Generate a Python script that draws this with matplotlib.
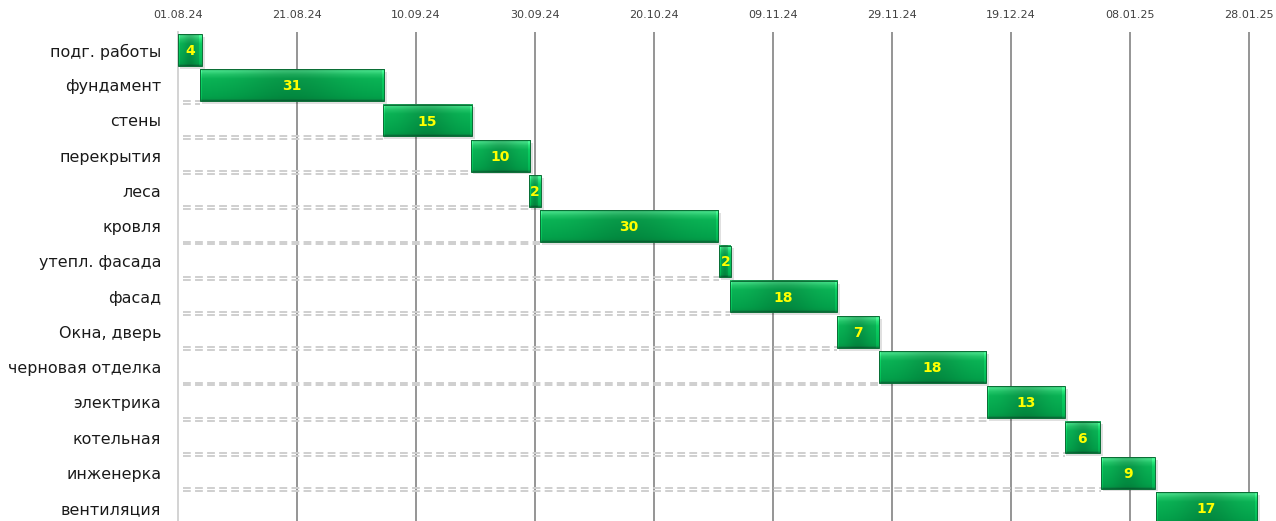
import matplotlib
matplotlib.use('Agg')
import matplotlib.pyplot as plt
import numpy as np
from matplotlib.colors import to_rgb
from matplotlib.patches import Rectangle

## data: tasks, start (days from 01.08.24) and duration in days
tasks = ['подг. работы', 'фундамент', 'стены', 'перекрытия', 'леса', 'кровля',
         'утепл. фасада', 'фасад', 'Окна, дверь', 'черновая отделка',
         'электрика', 'котельная', 'инженерка', 'вентиляция']
start_days = [0, 3.7, 34.4, 49.2, 59.0, 60.8, 91.0, 92.7, 110.8, 117.8,
              136.0, 149.0, 155.2, 164.3]
durations = [4, 31, 15, 10, 2, 30, 2, 18, 7, 18, 13, 6, 9, 17]
tick_labels = ['01.08.24', '21.08.24', '10.09.24', '30.09.24', '20.10.24',
               '09.11.24', '29.11.24', '19.12.24', '08.01.25', '28.01.25']
tick_step = 20

fig = plt.figure(figsize=(12.76, 5.21), dpi=100)
ax = fig.add_axes([0.1395, -0.0088, 0.8487, 0.9466])

## vertical colour profile of a bar (top -> bottom), 32 rows
prof_pts = [(0.0, '#1f9a55'), (0.04, '#45e28a'), (0.16, '#22c86a'),
            (0.30, '#0ab556'), (0.85, '#03a44c'), (0.95, '#049c48'),
            (1.0, '#08703a')]
rows = np.linspace(0, 1, 32)
prof = np.zeros((32, 3))
px = [p for p, c in prof_pts]
for ch in range(3):
    prof[:, ch] = np.interp(rows, px, [to_rgb(c)[ch] for p, c in prof_pts])


def bar_image(d):
    ncols = max(int(d * 6), 8)
    xs = np.linspace(0, 1, ncols)
    # darker middle
    fac = 1 - 0.16 * np.exp(-((xs - 0.5) / 0.28) ** 2)
    # light bevel at the ends
    edge = np.ones(ncols)
    edge[:2] = 1.18
    edge[-3:] = 1.15
    img = prof[:, None, :] * (fac * edge)[None, :, None]
    return np.clip(img, 0, 1)


h = 0.9
for i, (s, d) in enumerate(zip(start_days, durations)):
    y = i
    # dashed leader from left axis to bar start
    if s > 1:
        for dy in (0.44, 0.52):
            ax.plot([0.8, s], [y + dy, y + dy], ls=(0, (4, 2.2)),
                    color='#cfcfcf', lw=1.4, zorder=1)
    # soft shadow
    ax.add_patch(Rectangle((s + 0.3, y - h / 2 + 0.08), d + 0.2, h,
                           color='black', alpha=0.12, lw=0, zorder=2))
    ax.imshow(bar_image(d), aspect='auto', zorder=3,
              extent=(s, s + d, y + h / 2, y - h / 2), interpolation='bilinear')
    ax.add_patch(Rectangle((s, y - h / 2), d, h, fill=False,
                           edgecolor='#0b6e36', lw=0.7, zorder=4))
    ax.text(s + d / 2, y + 0.03, str(d), ha='center', va='center',
            color='#ffff00', fontweight='bold', fontsize=10, zorder=5)

positions = [tick_step * k for k in range(len(tick_labels))]
for p in positions[1:]:
    ax.axvline(p, color='#8c8c8c', lw=1.3, zorder=0)

ax.set_xlim(0, 182)
ax.set_ylim(len(tasks) - 0.5, -0.5)

ax.xaxis.tick_top()
ax.set_xticks(positions)
ax.set_xticklabels(tick_labels)
ax.tick_params(axis='x', length=0, pad=9, labelsize=8, labelcolor='#404040')
ax.set_yticks(range(len(tasks)))
ax.set_yticklabels(tasks)
ax.tick_params(axis='y', length=0, pad=12, labelsize=11.4, labelcolor='#1a1a1a')

for side in ('top', 'right', 'bottom'):
    ax.spines[side].set_visible(False)
ax.spines['left'].set_color('#d0d0d0')
ax.spines['left'].set_linewidth(1.3)

plt.savefig('out.png', dpi=100)
